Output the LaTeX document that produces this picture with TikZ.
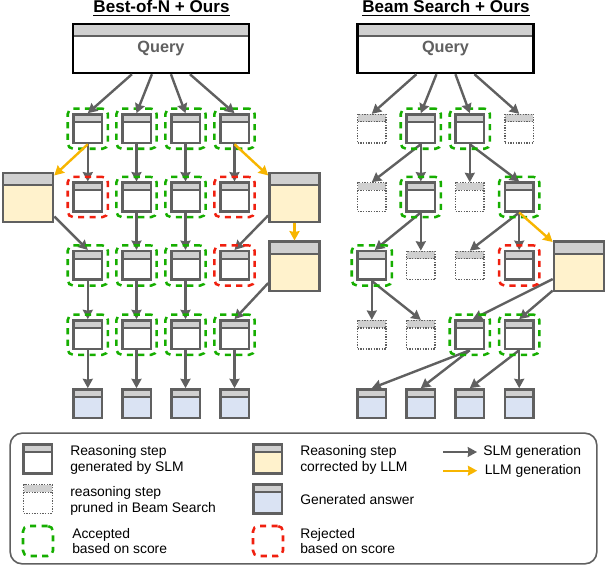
\documentclass[tikz,border=0pt]{standalone}
\usepackage{fontspec}
\setmainfont{Liberation Sans}
\usetikzlibrary{arrows.meta,fit}

\definecolor{boxgray}{HTML}{606060}
\definecolor{headgray}{HTML}{D0D0D0}
\definecolor{fixyellow}{HTML}{FFF2CC}
\definecolor{ansblue}{HTML}{DAE3F3}
\definecolor{okgreen}{HTML}{16AE00}
\definecolor{badred}{HTML}{F0200F}
\definecolor{llmorange}{HTML}{F7B500}

\newcommand{\boxsz}{21.4pt}
\newcommand{\bigw}{37.6pt}
\newcommand{\bigh}{36.8pt}

\tikzset{
	headed/.style={path picture={
		\fill[headgray] (path picture bounding box.north west) rectangle ([yshift=-#1]path picture bounding box.north east);
		\draw[boxgray,line width=1.4pt] ([yshift=-#1]path picture bounding box.north west) -- ([yshift=-#1]path picture bounding box.north east);
	}},
	stepbox/.style={draw=boxgray,line width=1.9pt,fill=white,minimum size=\boxsz,inner sep=0pt,headed=5.6pt},
	answerbox/.style={stepbox,fill=ansblue},
	lgfixbox/.style={stepbox,fill=fixyellow},
	fixbox/.style={stepbox,fill=fixyellow,minimum width=\bigw,minimum height=\bigh,headed=9.2pt},
	prunedbox/.style={draw=boxgray,line width=.9pt,dash pattern=on 1pt off 1pt,fill=white,minimum size=\boxsz,inner sep=0pt,path picture={
		\fill[headgray] (path picture bounding box.north west) rectangle ([yshift=-5.6pt]path picture bounding box.north east);
		\draw[boxgray,line width=.9pt,dash pattern=on 1pt off 1pt] ([yshift=-5.6pt]path picture bounding box.north west) -- ([yshift=-5.6pt]path picture bounding box.north east);
	}},
	querybox/.style={draw=black,line width=1.6pt,fill=white,minimum width=132pt,minimum height=37pt,inner sep=0pt,text=boxgray,font=\fontsize{12.2}{14}\selectfont\bfseries,headed=9.2pt},
	accepted/.style={draw=okgreen,line width=1.9pt,dash pattern=on 4.6pt off 4pt,rounded corners=4pt,inner sep=3.4pt},
	rejected/.style={accepted,draw=badred},
	titletext/.style={font=\fontsize{12.8}{15}\selectfont\bfseries,inner sep=0pt},
	legendtext/.style={anchor=west,align=left,inner sep=0pt,font=\fontsize{10.4}{11.6}\selectfont},
	slmline/.style={->,boxgray,line width=1.8pt},
	llmline/.style={->,llmorange,line width=1.8pt}
}

\begin{document}
\begin{tikzpicture}[x=.75pt,y=-.75pt,>={Stealth[length=7pt,width=7.5pt,inset=.6pt]}]
	\useasboundingbox (0,0) rectangle (606,566);
	%The two titles
	\node[titletext] (ltitle) at (161.5,8) {\underline{Best-of-N + Ours}};
	\node[titletext] (rtitle) at (446,8) {\underline{Beam Search + Ours}};
	%Draw the query boxes
	\node[querybox] (lq) at (161,48.5) {\raisebox{-4pt}{Query}};
	\node[querybox] (rq) at (445.5,48.5) {\raisebox{-4pt}{Query}};
	%Draw the grid of the left side
	\foreach \r/\y in {1/128.7,2/197,3/265.5,4/334.7}
		\foreach \c/\x in {1/87.8,2/136.5,3/185.5,4/234.5}
			\node[stepbox] (l\r\c) at (\x,\y) {};
	\foreach \c/\x in {1/87.8,2/136.5,3/185.5,4/234.5}
		\node[answerbox] (l5\c) at (\x,403.7) {};
	\node[fixbox] (lfixa) at (28,197.7) {};
	\node[fixbox] (lfixb) at (294.5,197.7) {};
	\node[fixbox] (lfixc) at (294.5,266.3) {};
	%Draw the grid of the right side
	\foreach \n/\x/\y/\k in {
		r11/371.8/128.7/prunedbox,r12/420.8/128.7/stepbox,r13/469.8/128.7/stepbox,r14/519.2/128.7/prunedbox,
		r21/371.8/197/prunedbox,r22/420.8/197/stepbox,r23/469.8/197/prunedbox,r24/519.2/197/stepbox,
		r31/371.8/265.5/stepbox,r32/420.8/265.5/prunedbox,r33/469.8/265.5/prunedbox,r34/519.2/265.5/stepbox,
		r41/371.8/334.7/prunedbox,r42/420.8/334.7/prunedbox,r43/469.8/334.7/stepbox,r44/519.2/334.7/stepbox,
		r51/371.8/403.7/answerbox,r52/420.8/403.7/answerbox,r53/469.8/403.7/answerbox,r54/519.2/403.7/answerbox}
		\node[\k] (\n) at (\x,\y) {};
	\node[fixbox] (rfix) at (579,266.3) {};
	%Draw the SLM lines
	\begin{scope}[slmline]
		\foreach \a/\b in {l11/l21,l12/l22,l13/l23,l14/l24,l22/l32,l23/l33,l31/l41,l32/l42,l33/l43,l41/l51,l42/l52,l43/l53,l44/l54,
			r12/r21,r12/r22,r13/r23,r13/r24,r22/r32,r24/r33,r24/r34,r31/r41,r31/r42,r43/r51,r43/r52,r44/r53,r44/r54}
			\draw (\a.south) -- (\b.north);
		\draw (r22.south) -- ([shift={(3,0)}]r31.north);
		\draw ([shift={(0,-7)}]lfixa.south east) -- (l31.north);
		\draw ([shift={(0,-8)}]lfixb.south west) -- (l34.north);
		\draw ([shift={(0,-9)}]lfixc.south west) -- (l44.north);
		\draw ([shift={(0,-13)}]rfix.south west) -- ([shift={(3,0)}]r43.north);
		\draw ([shift={(0,-1.5)}]rfix.south west) -- (r44.north);
	\end{scope}
	%Draw the score frames
	\foreach \n in {l11,l12,l13,l14,l22,l23,l31,l32,l33,l41,l42,l43,l44,r12,r13,r22,r24,r31,r43,r44}
		\node[accepted,fit=(\n)] (ok\n) {};
	\foreach \n in {l21,l24,l34,r34}
		\node[rejected,fit=(\n)] (no\n) {};
	%The lines from the query go over the frames
	\begin{scope}[slmline]
		\foreach \d/\c in {60/1,80/2,99/3,118/4} {
			\draw ([shift={(\d,0)}]lq.south west) -- (l1\c.north);
			\draw ([shift={(\d,0)}]rq.south west) -- (r1\c.north);
		}
	\end{scope}
	%Draw the LLM lines
	\begin{scope}[llmline]
		\draw (l11.south) -- ([shift={(0,3.5)}]lfixa.north east);
		\draw (l14.south) -- ([shift={(0,3.5)}]lfixb.north west);
		\draw (lfixb.south) -- (lfixc.north);
		\draw (r24.south) -- ([shift={(0,1.5)}]rfix.north west);
	\end{scope}
	%Draw the legend
	\node[draw=boxgray,line width=1.2pt,rounded corners=9pt,minimum width=440pt,minimum height=98pt,inner sep=0pt] (legend) at (303.5,498.5) {};
	\node[stepbox] (lgstep) at (37.7,459) {};
	\node[prunedbox] (lgpruned) at (38,499) {};
	\node[accepted,minimum size=22.5pt,inner sep=0pt] (lgok) at (38,541) {};
	\node[lgfixbox] (lgfix) at (267.5,459) {};
	\node[answerbox] (lgans) at (267.5,499) {};
	\node[rejected,minimum size=22.5pt,inner sep=0pt] (lgno) at (268,541) {};
	\node[legendtext] (lgsteptext) at (70,459.7) {Reasoning step\\generated by SLM};
	\node[legendtext] (lgprunedtext) at (70,500.7) {reasoning step\\pruned in Beam Search};
	\node[legendtext] (lgoktext) at (72,541) {Accepted\\based on score};
	\node[legendtext] (lgfixtext) at (300,459.7) {Reasoning step\\corrected by LLM};
	\node[legendtext] (lganstext) at (300,500) {Generated answer};
	\node[legendtext] (lgnotext) at (300,541) {Rejected\\based on score};
	\coordinate (lgslma) at (443,452);
	\coordinate (lgllma) at (443,470.7);
	\node[legendtext] (lgslm) at (483,452) {SLM generation};
	\node[legendtext] (lgllm) at (484.5,470.7) {LLM generation};
	\draw[slmline,line width=1.2pt] (lgslma) -- ([xshift=-4.5pt]lgslm.west);
	\draw[llmline,line width=1.2pt] (lgllma) -- ([xshift=-5.5pt]lgllm.west);
\end{tikzpicture}
\end{document}
